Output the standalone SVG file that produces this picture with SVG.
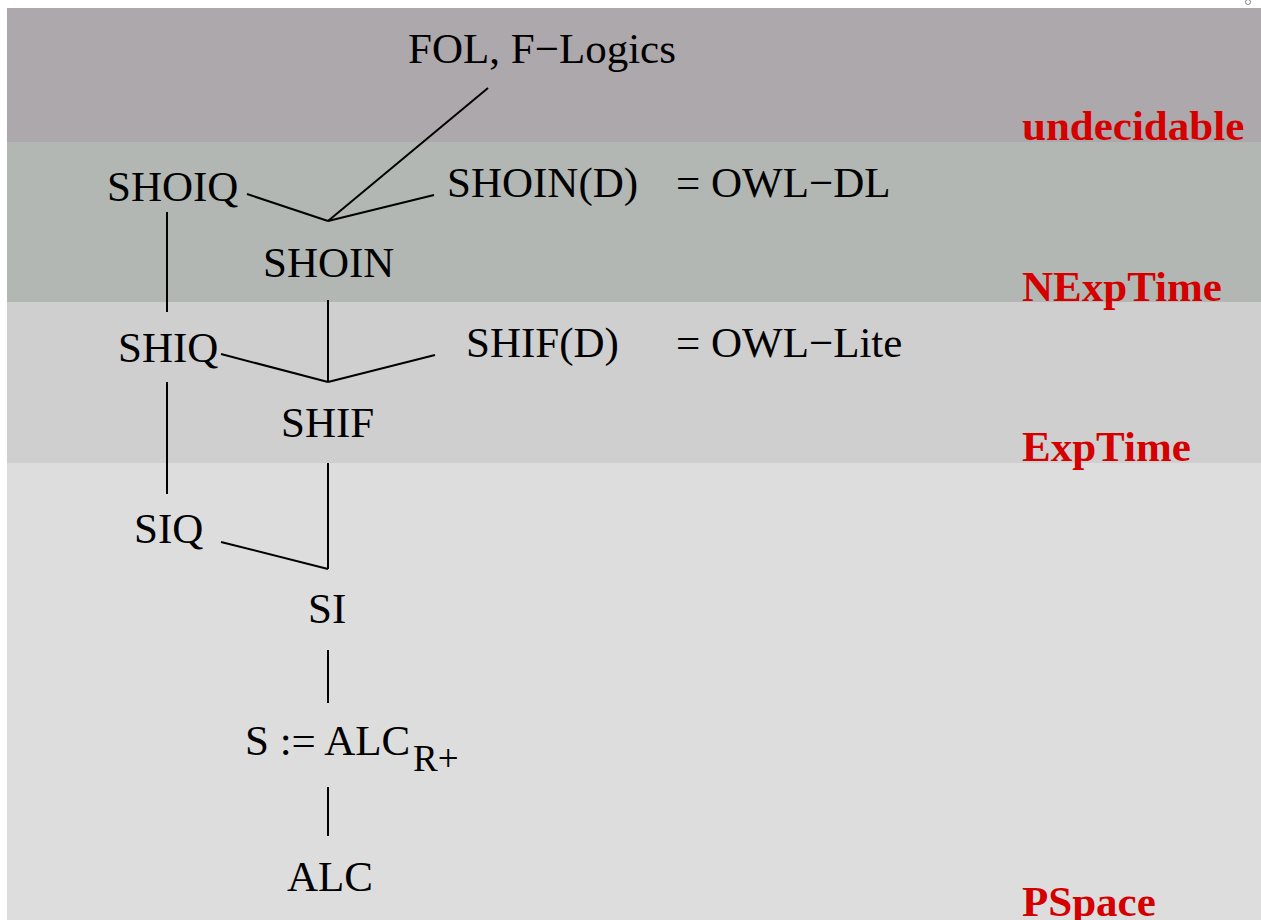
<svg xmlns="http://www.w3.org/2000/svg" width="1261" height="920" viewBox="0 0 1261 920">
<style>
.t{font-family:"Liberation Serif","Times New Roman",serif;font-size:43px;fill:#000}
.s{font-family:"Liberation Serif","Times New Roman",serif;font-size:37px;fill:#000}
.c{font-family:"Liberation Serif","Times New Roman",serif;font-size:43px;font-weight:bold;fill:#D40000}
.e{stroke:#000;stroke-width:2;fill:none}
</style>
<rect x="0" y="0" width="1261" height="920" fill="#fff"/>
<g id="bands">
<rect x="7" y="8" width="1254" height="134" fill="#ADA8AB"/>
<rect x="7" y="142" width="1254" height="160" fill="#B3B7B3"/>
<rect x="7" y="302" width="1254" height="161" fill="#CFCFCF"/>
<rect x="7" y="463" width="1254" height="457" fill="#DDDDDD"/>
<text class="c" x="1022" y="140">undecidable</text>
<text class="c" x="1022" y="301">NExpTime</text>
<text class="c" x="1022" y="461">ExpTime</text>
<text class="c" x="1022" y="916">PSpace</text>
</g>
<g id="connectors">
<line class="e" x1="488" y1="88" x2="328" y2="221"/>
<line class="e" x1="434" y1="195" x2="328" y2="221"/>
<line class="e" x1="247" y1="194" x2="328" y2="221"/>
<line class="e" x1="167" y1="212" x2="167" y2="312"/>
<line class="e" x1="328" y1="300" x2="328" y2="382"/>
<line class="e" x1="221" y1="354" x2="328" y2="382"/>
<line class="e" x1="435" y1="355" x2="328" y2="382"/>
<line class="e" x1="167" y1="382" x2="167" y2="494"/>
<line class="e" x1="328" y1="463" x2="328" y2="569"/>
<line class="e" x1="221" y1="542" x2="328" y2="569"/>
<line class="e" x1="328" y1="650" x2="328" y2="703"/>
<line class="e" x1="328" y1="787" x2="328" y2="836"/>
</g>
<g id="fol"><text class="t" x="408" y="63">FOL, F−Logics</text></g>
<g id="shoiq"><text class="t" x="107" y="201">SHOIQ</text></g>
<g id="shoind"><text class="t" x="447" y="197">SHOIN(D)</text><text class="t" x="676" y="197">= OWL−DL</text></g>
<g id="shoin"><text class="t" x="263" y="277">SHOIN</text></g>
<g id="shiq"><text class="t" x="118" y="362">SHIQ</text></g>
<g id="shifd"><text class="t" x="466" y="357">SHIF(D)</text><text class="t" x="676" y="357">= OWL−Lite</text></g>
<g id="shif"><text class="t" x="281" y="437">SHIF</text></g>
<g id="siq"><text class="t" x="134" y="543">SIQ</text></g>
<g id="si"><text class="t" x="308" y="623">SI</text></g>
<g id="s"><text class="t" x="245" y="755">S := ALC</text><text class="s" x="413" y="771">R+</text></g>
<g id="alc"><text class="t" x="287" y="891">ALC</text></g>
<ellipse cx="1248" cy="2" rx="2.5" ry="2.5" fill="none" stroke="#888" stroke-width="1"/>
</svg>
